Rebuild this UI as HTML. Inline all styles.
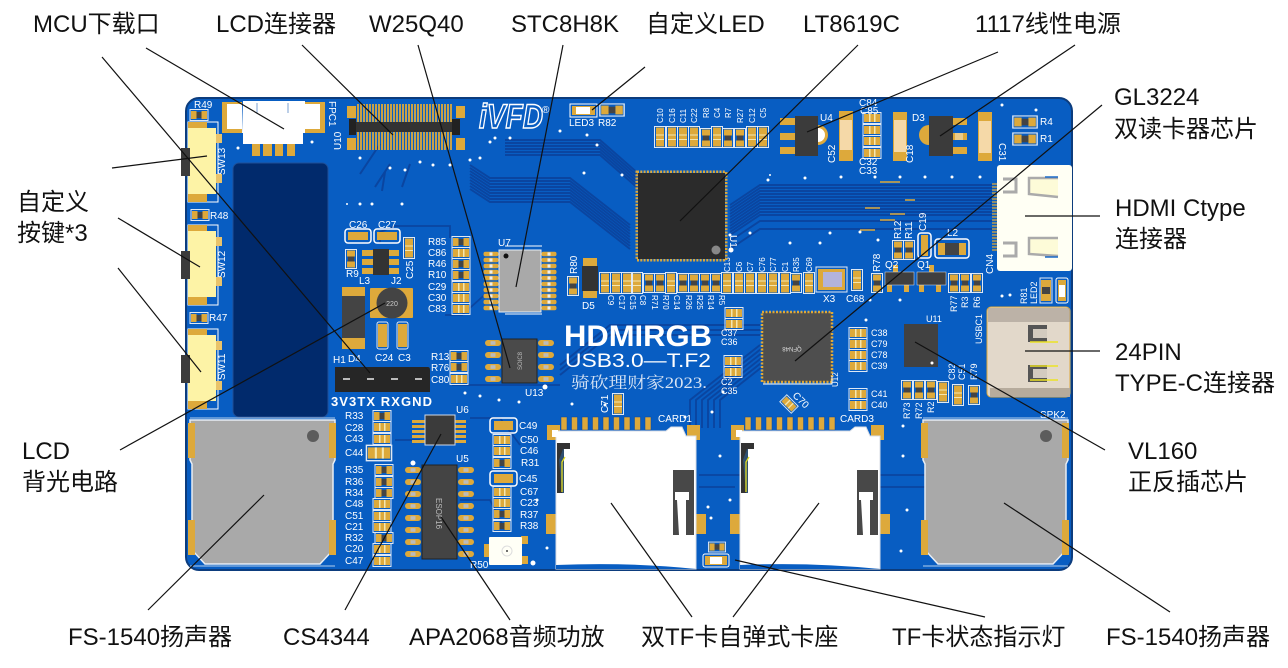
<!DOCTYPE html>
<html lang="zh">
<head>
<meta charset="utf-8">
<title>HDMIRGB</title>
<style>
html,body{margin:0;padding:0;background:#fff;width:1288px;height:668px;overflow:hidden}
svg{display:block}
.l{font:24px "Liberation Sans","Noto Sans CJK SC",sans-serif;fill:#111}
.s{font:10px "Liberation Sans",sans-serif;fill:#fff}
</style>
</head>
<body>
<svg width="1288" height="668" viewBox="0 0 1288 668" xmlns="http://www.w3.org/2000/svg">
<defs>
<g id="r"><rect x="-9" y="-5.5" width="18" height="11" fill="none" stroke="#dfe9f5"/><rect x="-8" y="-4" width="5.5" height="8" fill="#dda93b"/><rect x="2.500" y="-4" width="5.5" height="8" fill="#dda93b"/><rect x="-2.500" y="-3" width="5" height="6" fill="#444"/></g>
<g id="c"><rect x="-9" y="-5.5" width="18" height="11" fill="none" stroke="#dfe9f5"/><rect x="-8" y="-4" width="16" height="8" fill="#dda93b"/><rect x="-3" y="-4" width="1.500" height="8" fill="#f4e6b0"/><rect x="2" y="-4" width="1.500" height="8" fill="#f4e6b0"/></g>
<g id="rv"><rect x="-5.500" y="-9.500" width="11" height="19" fill="none" stroke="#dfe9f5"/><rect x="-4" y="-8.500" width="8" height="6" fill="#dda93b"/><rect x="-4" y="2.500" width="8" height="6" fill="#dda93b"/><rect x="-3" y="-2.500" width="6" height="5" fill="#444"/></g>
<g id="cv"><rect x="-5.500" y="-10.500" width="11" height="21" fill="none" stroke="#dfe9f5"/><rect x="-4" y="-9.500" width="8" height="19" fill="#dda93b"/><rect x="-4" y="-2.500" width="8" height="1" fill="#f4e6b0"/><rect x="-4" y="2" width="8" height="1" fill="#f4e6b0"/></g>
<g id="t1"><path d="M505 140H600L640 175" fill="none" stroke="#0a45a0" stroke-width="1.900"/></g>
<g id="t2"><path d="M470 165L490 178H570L630 225" fill="none" stroke="#0a45a0" stroke-width="1.900"/></g>
<g id="t3"><path d="M730 205L760 185H992" fill="none" stroke="#0a45a0" stroke-width="1.900"/></g>
<g id="t4"><path d="M560 365L610 325H760" fill="none" stroke="#0a45a0" stroke-width="1.900"/></g>
<g id="tc"><path d="M690 428V400L760 345" fill="none" stroke="#0a45a0" stroke-width="1.900"/></g>
<g id="pin"><rect x="-7.500" y="-2.200" width="15" height="4.400" rx="2" fill="#dda93b"/><rect x="-1.500" y="-1.600" width="3" height="3.200" fill="#eee"/></g>
<g id="pin2"><rect x="-8" y="-3" width="16" height="6" rx="3" fill="#dda93b"/><rect x="-2.500" y="-1.800" width="5" height="3.600" fill="#bbb"/></g>
<g id="f"><rect width="6" height="13" fill="#dda93b" stroke="#0a47a4" stroke-width=".5"/></g>
<g id="sw">
<rect x="188" y="0" width="30" height="80" fill="none" stroke="#fff"/>
<rect x="188" y="0" width="19" height="80" fill="#dda93b"/>
<rect x="188" y="6" width="28" height="66" fill="#fdf3a6"/>
<rect x="216" y="12" width="6" height="9" fill="#e9c36a"/><rect x="216" y="52" width="6" height="9" fill="#e9c36a"/>
<rect x="181" y="26" width="9" height="28" fill="#3b3b3b"/>
</g>
<g id="spk">
<path d="M0 0H145V40L143 44V130L130 144H15L2 130V44L0 40Z" fill="#a9a9a9" stroke="#e8eef5" stroke-width="1.500"/>
<rect x="-2" y="3" width="7" height="35" fill="#dda93b"/><rect x="139" y="3" width="7" height="35" fill="#dda93b"/>
<rect x="-2" y="100" width="7" height="35" fill="#dda93b"/><rect x="139" y="100" width="7" height="35" fill="#dda93b"/>
</g>
<g id="card">
<use href="#f" x="745" y="417"/><use href="#f" x="755.500" y="417"/><use href="#f" x="766" y="417"/><use href="#f" x="776.500" y="417"/><use href="#f" x="787" y="417"/><use href="#f" x="797.500" y="417"/><use href="#f" x="808" y="417"/><use href="#f" x="818.500" y="417"/><use href="#f" x="829" y="417"/>
<rect x="731" y="425" width="13" height="15" fill="#dda93b"/><rect x="871" y="425" width="13" height="15" fill="#dda93b"/>
<rect x="730" y="514" width="12" height="20" fill="#dda93b"/><rect x="878" y="514" width="12" height="20" fill="#dda93b"/>
<path d="M740 431H850L855 427H866L870 436H880V569H740Z" fill="#fff" stroke="#d8dde5"/>
<rect x="741" y="443" width="7" height="50" fill="#2f4f70"/><path d="M743 460L747 449H754V443H741V493H746Z" fill="#333"/><path d="M746 492V462L749 457" stroke="#e6df22" stroke-width="1.300" fill="none"/>
<rect x="857" y="470" width="21" height="65" fill="#484848"/>
<path d="M859 492H873V500H870V535H863L861 500H859Z" fill="#fff"/>
<rect x="736" y="430" width="6" height="7" fill="#fff"/>
</g>
</defs>

<!-- board -->
<rect x="186" y="98" width="886" height="472" rx="13" fill="#085dc2" stroke="#0c3c7d" stroke-width="2"/>

<!-- traces -->
<use href="#t1"/><use href="#t1" y="3"/><use href="#t1" y="6"/><use href="#t1" y="9"/><use href="#t1" y="12"/><use href="#t1" y="15"/>
<use href="#t2"/><use href="#t2" y="3"/><use href="#t2" y="6"/><use href="#t2" y="9"/><use href="#t2" y="12"/><use href="#t2" y="15"/><use href="#t2" y="18"/><use href="#t2" y="21"/><use href="#t2" y="24"/>
<use href="#t3"/><use href="#t3" y="3"/><use href="#t3" y="6"/><use href="#t3" y="9"/><use href="#t3" y="12"/><use href="#t3" y="15"/><use href="#t3" y="18"/><use href="#t3" y="21"/><use href="#t3" y="24"/><use href="#t3" y="27"/><use href="#t3" y="30"/><use href="#t3" y="36"/><use href="#t3" y="44"/>
<use href="#t4"/><use href="#t4" y="5"/><use href="#t4" y="10"/>
<use href="#tc"/><use href="#tc" x="6"/><use href="#tc" x="12"/><use href="#tc" x="18"/><use href="#tc" x="24"/><use href="#tc" x="30"/>
<path d="M380 243V232L395 226H450V238M445 315H462L490 290M452 385H560M395 440H420M470 418H500L520 445M460 500H490L505 530M730 475H745M880 475H925M880 487H925M699 475H735M699 487H735" fill="none" stroke="#0a45a0" stroke-width="1.800"/>
<path d="M350 130L330 160M360 150L345 173M380 150L372 173M355 158L352 177" stroke="#0a45a0" stroke-width="2" fill="none" transform="translate(30,14)"/>
<path d="M880 182H900M905 200H915M865 208H880M890 214H905M880 220H895M860 230H875" stroke="#dda93b" stroke-width="1.500"/>

<!-- vias -->
<g fill="#fff">
<circle cx="238" cy="148" r="1.500"/><circle cx="312" cy="142" r="1.500"/><circle cx="360" cy="204" r="1.500"/><circle cx="372" cy="204" r="1.500"/><circle cx="402" cy="204" r="1.500"/><circle cx="360" cy="158" r="1.500"/>
<circle cx="390" cy="168" r="1.500"/><circle cx="405" cy="170" r="1.500"/><circle cx="420" cy="162" r="1.500"/><circle cx="433" cy="165" r="1.500"/><circle cx="450" cy="165" r="1.500"/><circle cx="470" cy="160" r="1.500"/><circle cx="480" cy="158" r="1.500"/><circle cx="490" cy="142" r="1.500"/><circle cx="495" cy="138" r="1.500"/><circle cx="510" cy="138" r="1.500"/><circle cx="560" cy="131" r="1.500"/><circle cx="587" cy="135" r="1.500"/><circle cx="597" cy="145" r="1.500"/><circle cx="584" cy="173" r="1.500"/><circle cx="622" cy="175" r="1.500"/>
<circle cx="768" cy="180" r="1.500"/><circle cx="805" cy="178" r="1.500"/><circle cx="841" cy="177" r="1.500"/><circle cx="875" cy="177" r="1.500"/><circle cx="900" cy="177" r="1.500"/><circle cx="925" cy="177" r="1.500"/><circle cx="952" cy="177" r="1.500"/><circle cx="980" cy="177" r="1.500"/><circle cx="1002" cy="105" r="1.500"/><circle cx="1036" cy="110" r="1.500"/>
<circle cx="750" cy="233" r="1.500"/><circle cx="830" cy="233" r="1.500"/><circle cx="860" cy="232" r="1.500"/><circle cx="878" cy="240" r="1.500"/><circle cx="820" cy="243" r="1.500"/><circle cx="790" cy="243" r="1.500"/><circle cx="730" cy="235" r="1.500"/>
<circle cx="1002" cy="296" r="1.500"/><circle cx="900" cy="300" r="1.500"/><circle cx="870" cy="300" r="1.500"/><circle cx="866" cy="320" r="1.500"/><circle cx="1010" cy="295" r="1.500"/><circle cx="1024" cy="363" r="0"/><circle cx="903" cy="426" r="1.500"/><circle cx="903" cy="456" r="1.500"/><circle cx="907" cy="510" r="1.500"/><circle cx="901" cy="551" r="1.500"/>
<circle cx="465" cy="393" r="1.500"/><circle cx="480" cy="396" r="1.500"/><circle cx="499" cy="400" r="1.500"/><circle cx="519" cy="402" r="1.500"/><circle cx="545" cy="387" r="2.500"/><circle cx="572" cy="404" r="1.500"/><circle cx="605" cy="405" r="1.500"/><circle cx="712" cy="412" r="1.500"/><circle cx="723" cy="392" r="1.500"/><circle cx="685" cy="417" r="1.500"/><circle cx="720" cy="456" r="1.500"/><circle cx="708" cy="507" r="1.500"/><circle cx="730" cy="500" r="1.500"/><circle cx="711" cy="518" r="1.500"/><circle cx="537" cy="500" r="1.500"/><circle cx="547" cy="548" r="1.500"/><circle cx="533" cy="563" r="2.500"/><circle cx="413" cy="463" r="2.500"/>
<circle cx="347" cy="204" r="1"/><circle cx="770" cy="175" r="1"/>
</g>

<!-- dark window -->
<rect x="233" y="163" width="95" height="254" rx="6" fill="#012a6c" stroke="#1f4f97" stroke-width="1"/>

<!-- FPC1 -->
<rect x="222" y="102" width="20" height="31" fill="#dda93b"/><rect x="305" y="102" width="20" height="31" fill="#dda93b"/>
<rect x="227" y="104" width="15" height="25" fill="#fff"/><rect x="305" y="104" width="15" height="25" fill="#fff"/>
<g fill="#dda93b"><rect x="252" y="142" width="8" height="14"/><rect x="263" y="142" width="9" height="14"/><rect x="275" y="142" width="8" height="14"/><rect x="287" y="142" width="8" height="14"/></g>
<path d="M243 101H305V133H303V144H243V133H242Z" fill="#fff"/>
<path d="M257 103V113M288 103V113" stroke="#7a9fd0" stroke-width="1"/>
<text class="s" transform="translate(329,101) rotate(90)">FPC1</text>
<text class="s" transform="translate(341,150) rotate(-90)">U10</text>

<!-- U10 connector -->
<g>
<rect x="347" y="106" width="9" height="12" fill="#dda93b"/><rect x="456" y="106" width="9" height="12" fill="#dda93b"/><rect x="347" y="138" width="9" height="12" fill="#dda93b"/><rect x="456" y="138" width="9" height="12" fill="#dda93b"/>
<path d="M358 104V150M361 104V150M364 104V150M367 104V150M370 104V150M373 104V150M376 104V150M379 104V150M382 104V150M385 104V150M388 104V150M391 104V150M394 104V150M397 104V150M400 104V150M403 104V150M406 104V150M409 104V150M412 104V150M415 104V150M418 104V150M421 104V150M424 104V150M427 104V150M430 104V150M433 104V150M436 104V150M439 104V150M442 104V150M445 104V150M448 104V150M451 104V150" stroke="#dda93b" stroke-width="1.800"/>
<rect x="350" y="122" width="108" height="10" fill="#333"/><rect x="349" y="119" width="7" height="16" fill="#222"/><rect x="452" y="119" width="8" height="16" fill="#222"/>
</g>

<!-- logo -->
<text x="479" y="128" font-family="Liberation Sans,sans-serif" font-size="34" font-weight="700" font-style="italic" fill="#085dc2" stroke="#fff" stroke-width="1.500" textLength="64" lengthAdjust="spacingAndGlyphs">iVFD</text>
<text x="542" y="113" class="s" font-size="11">®</text>

<!-- LED3 R82 -->
<rect x="570" y="104" width="27" height="13" fill="none" stroke="#fff"/><rect x="572" y="106" width="23" height="9" fill="#dda93b"/><rect x="576" y="107" width="14" height="7" fill="#fff"/>
<use href="#r" transform="translate(612,110) scale(1.350,1.100)"/>
<text class="s" x="569" y="126">LED3</text><text class="s" x="598" y="126">R82</text>

<!-- switches -->
<use href="#sw" y="122"/><use href="#sw" y="225"/><use href="#sw" y="329"/>
<text class="s" transform="translate(225,175) rotate(-90)">SW13</text><text class="s" transform="translate(225,278) rotate(-90)">SW12</text><text class="s" transform="translate(225,380) rotate(-90)">SW11</text>
<use href="#r" x="199" y="115"/><use href="#r" x="200" y="215"/><use href="#r" x="199" y="318"/>
<text class="s" x="194" y="108">R49</text><text class="s" x="210" y="219">R48</text><text class="s" x="209" y="321">R47</text>

<!-- LCD power -->
<rect x="345" y="229" width="26" height="14" rx="3" fill="none" stroke="#fff" stroke-width="1.500"/><rect x="348" y="232" width="20" height="8" fill="#dda93b"/>
<rect x="374" y="229" width="26" height="14" rx="3" fill="none" stroke="#fff" stroke-width="1.500"/><rect x="377" y="232" width="20" height="8" fill="#dda93b"/>
<text class="s" x="349" y="228">C26</text><text class="s" x="378" y="228">C27</text>
<g fill="#dda93b"><rect x="362" y="250" width="11" height="6"/><rect x="362" y="259" width="11" height="6"/><rect x="362" y="268" width="11" height="6"/><rect x="389" y="250" width="10" height="6"/><rect x="389" y="259" width="10" height="6"/><rect x="389" y="268" width="10" height="6"/></g>
<rect x="373" y="249" width="16" height="26" fill="#333"/>
<use href="#rv" x="351" y="259"/><text class="s" x="346" y="277">R9</text>
<use href="#cv" x="409" y="248"/><text class="s" transform="translate(413,279) rotate(-90)">C25</text>
<text class="s" x="359" y="284">L3</text><text class="s" x="391" y="284">J2</text>
<rect x="342" y="287" width="23" height="10" fill="#dda93b"/>
<rect x="342" y="296" width="23" height="44" fill="#444"/><rect x="342" y="338" width="23" height="11" fill="#dda93b"/>
<rect x="370" y="288" width="43" height="30" rx="1" fill="#dda93b"/><circle cx="392" cy="303" r="15.500" fill="#444"/>
<text x="392" y="306" text-anchor="middle" font-family="Liberation Sans,sans-serif" font-size="7" fill="#ccc">220</text>
<rect x="377" y="322" width="11" height="27" rx="2" fill="none" stroke="#dfe9f5"/><rect x="378" y="324" width="9" height="23" fill="#dda93b"/>
<rect x="397" y="322" width="11" height="27" rx="2" fill="none" stroke="#dfe9f5"/><rect x="398" y="324" width="9" height="23" fill="#dda93b"/>
<text class="s" x="348" y="362">D4</text><text class="s" x="375" y="361">C24</text><text class="s" x="398" y="361">C3</text>
<text class="s" x="333" y="363" font-size="8">H1</text>

<!-- H1 -->
<path d="M335 367H428Q430 367 430 370V392H335Z" fill="#262626"/>
<g fill="#bbb"><rect x="343" y="378" width="7" height="2"/><rect x="367" y="378" width="7" height="2"/><rect x="391" y="378" width="7" height="2"/><rect x="415" y="378" width="7" height="2"/></g>
<text x="331" y="406" font-family="Liberation Sans,sans-serif" font-size="13" font-weight="700" fill="#fff" textLength="101">3V3TX RXGND</text>

<!-- R85.. -->
<use href="#r" x="461" y="242"/><use href="#c" x="461" y="253"/><use href="#r" x="461" y="264"/><use href="#r" x="461" y="275"/><use href="#c" x="461" y="287"/><use href="#c" x="461" y="298"/><use href="#c" x="461" y="309"/>
<text class="s" x="428" y="245">R85</text><text class="s" x="428" y="256">C86</text><text class="s" x="428" y="267">R46</text><text class="s" x="428" y="278">R10</text><text class="s" x="428" y="290">C29</text><text class="s" x="428" y="301">C30</text><text class="s" x="428" y="312">C83</text>

<!-- U7 -->
<text class="s" x="498" y="246">U7</text>
<g>
<use href="#pin" x="491" y="254"/><use href="#pin" x="491" y="260"/><use href="#pin" x="491" y="266"/><use href="#pin" x="491" y="272"/><use href="#pin" x="491" y="278"/><use href="#pin" x="491" y="284"/><use href="#pin" x="491" y="290"/><use href="#pin" x="491" y="296"/><use href="#pin" x="491" y="302"/><use href="#pin" x="491" y="308"/>
<use href="#pin" x="549" y="254"/><use href="#pin" x="549" y="260"/><use href="#pin" x="549" y="266"/><use href="#pin" x="549" y="272"/><use href="#pin" x="549" y="278"/><use href="#pin" x="549" y="284"/><use href="#pin" x="549" y="290"/><use href="#pin" x="549" y="296"/><use href="#pin" x="549" y="302"/><use href="#pin" x="549" y="308"/>
</g>
<rect x="499" y="250" width="42" height="62" fill="#a9a9a9" stroke="#e8eef5"/><circle cx="506" cy="256" r="2.500" fill="#111"/>
<path d="M505 246H542M505 314H542" stroke="#fff"/>

<!-- D5 R80 -->
<use href="#rv" x="573" y="286"/><text class="s" transform="translate(577,274) rotate(-90)">R80</text>
<rect x="583" y="258" width="14" height="40" fill="#dda93b"/><rect x="582" y="266" width="16" height="25" fill="#333"/>
<text class="s" x="582" y="309">D5</text>

<!-- row -->
<use href="#cv" x="605" y="283"/><use href="#cv" x="616" y="283"/><use href="#cv" x="627" y="283"/><use href="#cv" x="637" y="283"/>
<use href="#rv" x="649" y="283"/><use href="#rv" x="660" y="283"/><use href="#cv" x="671" y="283"/><use href="#rv" x="683" y="283"/><use href="#rv" x="694" y="283"/><use href="#rv" x="705" y="283"/><use href="#rv" x="716" y="283"/><use href="#cv" x="727" y="283"/><use href="#cv" x="739" y="283"/><use href="#cv" x="750" y="283"/><use href="#cv" x="762" y="283"/><use href="#cv" x="773" y="283"/><use href="#cv" x="785" y="283"/><use href="#rv" x="796" y="283"/><use href="#cv" x="809" y="283"/>
<g font-family="Liberation Sans,sans-serif" font-size="8" fill="#fff">
<text transform="translate(608,295) rotate(90)">C9</text><text transform="translate(619,295) rotate(90)">C17</text><text transform="translate(630,295) rotate(90)">C15</text><text transform="translate(640,295) rotate(90)">C8</text><text transform="translate(652,295) rotate(90)">R71</text><text transform="translate(663,295) rotate(90)">R70</text><text transform="translate(674,295) rotate(90)">C14</text><text transform="translate(686,295) rotate(90)">R26</text><text transform="translate(697,295) rotate(90)">R25</text><text transform="translate(708,295) rotate(90)">R14</text><text transform="translate(719,295) rotate(90)">R5</text>
<text transform="translate(730,272) rotate(-90)">C13</text><text transform="translate(742,272) rotate(-90)">C6</text><text transform="translate(753,272) rotate(-90)">C7</text><text transform="translate(765,272) rotate(-90)">C76</text><text transform="translate(776,272) rotate(-90)">C77</text><text transform="translate(788,272) rotate(-90)">C1</text><text transform="translate(799,272) rotate(-90)">R35</text><text transform="translate(812,272) rotate(-90)">C69</text>
</g>
<rect x="816" y="267" width="31" height="25" fill="none" stroke="#dfe9f5"/><rect x="818" y="269" width="27" height="21" fill="#dda93b"/><rect x="823" y="272" width="19" height="15" fill="#b3b3db"/>
<text class="s" x="823" y="302">X3</text><use href="#cv" x="857" y="280"/><text class="s" x="846" y="302">C68</text>

<!-- Top row caps -->
<use href="#cv" x="660" y="137"/><use href="#cv" x="672" y="137"/><use href="#cv" x="683" y="137"/><use href="#cv" x="694" y="137"/><use href="#rv" x="706" y="138"/><use href="#cv" x="717" y="137"/><use href="#rv" x="728" y="138"/><use href="#rv" x="740" y="138"/><use href="#cv" x="752" y="137"/><use href="#cv" x="763" y="137"/>
<g font-family="Liberation Sans,sans-serif" font-size="8" fill="#fff">
<text transform="translate(663,123) rotate(-90)">C10</text><text transform="translate(675,123) rotate(-90)">C16</text><text transform="translate(686,123) rotate(-90)">C11</text><text transform="translate(697,123) rotate(-90)">C22</text><text transform="translate(709,118) rotate(-90)">R8</text><text transform="translate(720,118) rotate(-90)">C4</text><text transform="translate(731,118) rotate(-90)">R7</text><text transform="translate(743,123) rotate(-90)">R27</text><text transform="translate(755,123) rotate(-90)">C12</text><text transform="translate(766,118) rotate(-90)">C5</text>
</g>

<!-- U1 -->
<rect x="637" y="172" width="89" height="88" fill="none" stroke="#dda93b" stroke-width="3" stroke-dasharray="2 1.300"/>
<rect x="638" y="173" width="87" height="86" fill="#2b2b2b"/><circle cx="716" cy="250" r="4.500" fill="#888"/>
<circle cx="731" cy="250" r="2.500" fill="#fff"/><text class="s" transform="translate(730,235) rotate(90)" font-size="8">U1</text>

<!-- U4 -->
<g fill="#dda93b"><rect x="780" y="118" width="16" height="7"/><rect x="780" y="133" width="16" height="7"/><rect x="780" y="147" width="16" height="7"/></g>
<path d="M818 125A10 10 0 0 1 818 145Z" fill="#dda93b"/><path d="M818 128A6 6 0 0 1 818 142Z" fill="#fff"/>
<rect x="795" y="116" width="23" height="40" fill="#3b3b3b"/>
<text class="s" x="820" y="121">U4</text>
<rect x="839" y="111" width="14" height="50" fill="#dda93b"/><rect x="840" y="120" width="12" height="30" fill="#f5d9a8"/>
<text class="s" transform="translate(835,163) rotate(-90)">C52</text>
<use href="#c" x="872" y="118"/><use href="#c" x="872" y="130"/><use href="#c" x="872" y="141"/><use href="#c" x="872" y="153"/>
<g font-family="Liberation Sans,sans-serif" font-size="10" fill="#fff"><text x="859" y="106">C84</text><text x="860" y="114">C85</text><text x="859" y="165">C32</text><text x="859" y="174">C33</text></g>
<rect x="893" y="112" width="14" height="49" fill="#dda93b"/><rect x="894" y="120" width="12" height="32" fill="#f5d9a8"/>
<text class="s" transform="translate(913,163) rotate(-90)">C18</text><text class="s" x="912" y="121">D3</text>
<path d="M929 125A10 10 0 0 0 929 145Z" fill="#dda93b"/>
<g fill="#dda93b"><rect x="953" y="118" width="14" height="7"/><rect x="953" y="133" width="14" height="7"/><rect x="953" y="147" width="14" height="7"/></g><rect x="955" y="133" width="8" height="7" fill="#fff" opacity=".4"/>
<rect x="929" y="116" width="24" height="40" fill="#3b3b3b"/>
<rect x="978" y="112" width="14" height="49" fill="#dda93b"/><rect x="979" y="121" width="12" height="32" fill="#f5d9a8"/>
<text class="s" transform="translate(999,143) rotate(90)" font-size="9">C31</text>
<use href="#r" transform="translate(1025,122) scale(1.350,1.100)"/><use href="#r" transform="translate(1025,139) scale(1.350,1.100)"/>
<text class="s" x="1040" y="125">R4</text><text class="s" x="1040" y="142">R1</text>

<!-- HDMI -->
<g stroke="#dda93b" stroke-width="1.200"><path d="M992 184H998M992 187H998M992 190H998M992 193H998M992 196H998M992 199H998M992 202H998M992 205H998M992 208H998M992 211H998M992 214H998M992 217H998M992 220H998M992 223H998M992 226H998M992 229H998M992 232H998M992 235H998M992 238H998M992 241H998M992 244H998M992 247H998M992 250H998"/></g>
<rect x="997" y="165" width="75" height="106" rx="3" fill="#fffff4"/>
<path d="M1003 179H1016V192H1003M1003 243H1016V256H1003" fill="none" stroke="#aaa" stroke-width="3"/>
<path d="M1058 178H1029V194L1058 197" fill="#fdfbd8" stroke="#aaa" stroke-width="2.500"/><path d="M1058 238H1029V254L1058 256" fill="#fdfbd8" stroke="#aaa" stroke-width="2.500"/>
<path d="M1045 177H1058M1045 257H1058" stroke="#1a6ac8" stroke-width="1.500"/>
<text class="s" transform="translate(993,274) rotate(-90)" font-size="9">CN4</text>

<!-- R12 group -->
<use href="#rv" x="898" y="250"/><use href="#rv" x="909" y="250"/>
<text class="s" transform="translate(901,239) rotate(-90)" font-size="9">R12</text><text class="s" transform="translate(912,239) rotate(-90)" font-size="9">R11</text><text class="s" transform="translate(926,231) rotate(-90)" font-size="9">C19</text>
<rect x="918" y="233" width="13" height="25" rx="3" fill="none" stroke="#fff" stroke-width="1.500"/><rect x="921" y="235" width="7" height="21" fill="#dda93b"/>
<rect x="935" y="239" width="34" height="19" rx="3" fill="none" stroke="#fff" stroke-width="1.500"/><rect x="938" y="243" width="28" height="12" fill="#dda93b"/><rect x="945" y="243" width="14" height="12" fill="#444"/>
<text class="s" x="947" y="236">L2</text>
<use href="#rv" x="877" y="283"/><text class="s" transform="translate(880,272) rotate(-90)" font-size="9">R78</text>
<g fill="#dda93b"><rect x="893" y="265" width="5" height="8"/><rect x="887" y="284" width="5" height="8"/><rect x="904" y="284" width="5" height="8"/><rect x="929" y="265" width="5" height="8"/><rect x="919" y="284" width="5" height="8"/><rect x="936" y="284" width="5" height="8"/></g>
<rect x="885" y="272" width="29" height="13" fill="#3f3f3f" stroke="#dfe9f5" stroke-width=".5"/><rect x="917" y="272" width="29" height="13" fill="#3f3f3f" stroke="#dfe9f5" stroke-width=".5"/>
<text class="s" x="885" y="268" font-size="9">Q2</text><text class="s" x="917" y="268" font-size="9">Q1</text>
<use href="#rv" x="954" y="283"/><use href="#rv" x="965" y="283"/><use href="#rv" x="977" y="283"/>
<g font-family="Liberation Sans,sans-serif" font-size="9" fill="#fff"><text transform="translate(957,312) rotate(-90)">R77</text><text transform="translate(968,308) rotate(-90)">R3</text><text transform="translate(980,308) rotate(-90)">R6</text><text transform="translate(1027,304) rotate(-90)">R81</text><text transform="translate(1037,304) rotate(-90)">LED2</text><text transform="translate(982,344) rotate(-90)">USBC1</text><text x="926" y="322">U11</text><text transform="translate(838,387) rotate(-90)" font-size="8">U12</text></g>
<rect x="1040" y="278" width="12" height="25" fill="none" stroke="#dfe9f5"/><rect x="1041" y="280" width="10" height="21" fill="#dda93b"/><rect x="1042" y="287" width="8" height="7" fill="#444"/>
<rect x="1056" y="278" width="12" height="25" rx="2" fill="none" stroke="#fff"/><rect x="1058" y="280" width="8" height="21" fill="#dda93b"/><rect x="1059" y="285" width="6" height="12" fill="#fff"/>

<!-- USB-C -->
<rect x="987" y="307" width="83" height="90" rx="4" fill="#e2d8ca" stroke="#dda93b" stroke-width="1"/>
<path d="M988 308H1070V322H988Z" fill="#9c948a" opacity=".55"/>
<path d="M1028 325H1047V342H1028ZM1028 365H1047V382H1028Z" fill="#555"/>
<path d="M1033 329H1047V338H1033ZM1033 369H1047V378H1033Z" fill="#d3cbbf"/>
<path d="M1030 342H1058M1030 380H1058M1030 366H1058" stroke="#ebe225" stroke-width="1.500"/>
<path d="M990 388H1070V397H990Z" fill="#b6ab9c"/>

<!-- U12 -->
<rect x="762" y="312" width="70" height="70" fill="#4e4e4e" stroke="#dda93b" stroke-width="2.500" stroke-dasharray="2 1.500"/>
<text transform="translate(792,347) rotate(180)" text-anchor="middle" font-family="Liberation Sans,sans-serif" font-size="6" fill="#ddd">QFN48</text>
<path d="M763 384H832V376" fill="none" stroke="#fff"/>

<!-- small caps centre -->
<use href="#c" x="734" y="313"/><use href="#c" x="734" y="324"/><use href="#c" x="733" y="361"/><use href="#c" x="733" y="372"/>
<g font-family="Liberation Sans,sans-serif" font-size="9" fill="#fff"><text x="721" y="336">C37</text><text x="721" y="345">C36</text><text x="721" y="385">C2</text><text x="721" y="394">C35</text></g>
<use href="#c" x="858" y="333"/><use href="#c" x="858" y="344"/><use href="#c" x="858" y="355"/><use href="#c" x="858" y="366"/><use href="#c" x="858" y="394"/><use href="#c" x="858" y="405"/>
<g font-family="Liberation Sans,sans-serif" font-size="9" fill="#fff"><text x="871" y="336">C38</text><text x="871" y="347">C79</text><text x="871" y="358">C78</text><text x="871" y="369">C39</text><text x="871" y="397">C41</text><text x="871" y="408">C40</text></g>
<use href="#c" transform="translate(789,404) rotate(45) scale(.9)"/><text class="s" transform="translate(792,396) rotate(45)" font-size="9">C70</text>
<use href="#cv" x="618" y="404"/><text class="s" transform="translate(608,413) rotate(-90)" font-size="8">C71</text>

<!-- U11 -->
<rect x="904" y="324" width="34" height="43" fill="#414141"/><circle cx="932" cy="363" r="1.500" fill="#fff"/>
<use href="#rv" x="907" y="390"/><use href="#rv" x="919" y="390"/><use href="#rv" x="931" y="390"/><use href="#cv" x="943" y="392"/><use href="#cv" x="958" y="395"/><use href="#rv" x="974" y="395"/>
<g font-family="Liberation Sans,sans-serif" font-size="9" fill="#fff"><text transform="translate(910,419) rotate(-90)">R73</text><text transform="translate(922,419) rotate(-90)">R72</text><text transform="translate(934,413) rotate(-90)">R2</text><text transform="translate(955,380) rotate(-90)">C82</text><text transform="translate(965,380) rotate(-90)">C51</text><text transform="translate(977,380) rotate(-90)">R79</text></g>

<!-- HDMIRGB -->
<text x="564" y="346" font-family="Liberation Sans,sans-serif" font-size="30" font-weight="700" fill="#fff" textLength="148" lengthAdjust="spacingAndGlyphs">HDMIRGB</text>
<text x="565" y="367" font-family="Liberation Sans,sans-serif" font-size="19" fill="#fff" textLength="146" lengthAdjust="spacingAndGlyphs">USB3.0—T.F2</text>
<text x="571" y="388" font-family="Liberation Serif,Noto Serif CJK SC,serif" font-size="16" fill="#d8e4f4" textLength="136" lengthAdjust="spacingAndGlyphs">骑砍理财家2023.</text>

<!-- U13 -->
<use href="#pin2" x="493" y="343"/><use href="#pin2" x="493" y="355"/><use href="#pin2" x="493" y="367"/><use href="#pin2" x="493" y="379"/>
<use href="#pin2" x="546" y="343"/><use href="#pin2" x="546" y="355"/><use href="#pin2" x="546" y="367"/><use href="#pin2" x="546" y="379"/>
<rect x="502" y="339" width="35" height="44" fill="#4a4a4a" stroke="#222"/>
<text transform="translate(522,361) rotate(-90)" text-anchor="middle" font-family="Liberation Sans,sans-serif" font-size="6" fill="#bbb">SOIC8</text>
<text class="s" x="525" y="396" font-size="9">U13</text>
<use href="#r" x="459" y="356"/><use href="#r" x="459" y="367"/><use href="#c" x="459" y="379"/>
<g font-family="Liberation Sans,sans-serif" font-size="10" fill="#fff"><text x="431" y="360">R13</text><text x="431" y="371">R76</text><text x="431" y="383">C80</text></g>

<!-- speakers -->
<use href="#spk" x="190" y="420"/><circle cx="313" cy="436" r="6" fill="#5c5c5c"/>
<use href="#spk" x="923" y="420"/><circle cx="1046" cy="436" r="6" fill="#5c5c5c"/>
<path d="M190 418H335M923 418H1068M190 566H335M923 566H1068" stroke="#fff" stroke-width="1" opacity=".7"/>
<text class="s" x="1040" y="418">SPK2</text>

<!-- Left caps -->
<use href="#r" x="382" y="416"/><use href="#c" x="382" y="427"/><use href="#c" x="382" y="439"/><use href="#c" transform="translate(379,453) scale(1.400)"/><use href="#r" x="384" y="470"/><use href="#r" x="384" y="482"/><use href="#r" x="384" y="493"/><use href="#c" x="382" y="504"/><use href="#c" x="382" y="516"/><use href="#c" x="382" y="527"/><use href="#r" x="384" y="538"/><use href="#c" x="382" y="549"/><use href="#c" x="382" y="561"/>
<g font-family="Liberation Sans,sans-serif" font-size="10" fill="#fff"><text x="345" y="419">R33</text><text x="345" y="431">C28</text><text x="345" y="442">C43</text><text x="345" y="456">C44</text><text x="345" y="473">R35</text><text x="345" y="485">R36</text><text x="345" y="496">R34</text><text x="345" y="507">C48</text><text x="345" y="519">C51</text><text x="345" y="530">C21</text><text x="345" y="541">R32</text><text x="345" y="552">C20</text><text x="345" y="564">C47</text></g>

<!-- U6 -->
<g fill="#dda93b"><rect x="412" y="420" width="13" height="3"/><rect x="412" y="425" width="13" height="3"/><rect x="412" y="430" width="13" height="3"/><rect x="412" y="435" width="13" height="3"/><rect x="412" y="440" width="13" height="3"/><rect x="455" y="420" width="11" height="3"/><rect x="455" y="425" width="11" height="3"/><rect x="455" y="430" width="11" height="3"/><rect x="455" y="435" width="11" height="3"/><rect x="455" y="440" width="11" height="3"/></g>
<rect x="425" y="415" width="30" height="30" fill="#3b3b3b" stroke="#cfd8e5"/>
<text class="s" x="456" y="413" font-size="9">U6</text>
<text class="s" x="456" y="462" font-size="9">U5</text>
<!-- U5 -->
<use href="#pin2" x="413" y="470"/><use href="#pin2" x="413" y="482"/><use href="#pin2" x="413" y="494"/><use href="#pin2" x="413" y="506"/><use href="#pin2" x="413" y="518"/><use href="#pin2" x="413" y="530"/><use href="#pin2" x="413" y="542"/><use href="#pin2" x="413" y="554"/>
<use href="#pin2" x="466" y="470"/><use href="#pin2" x="466" y="482"/><use href="#pin2" x="466" y="494"/><use href="#pin2" x="466" y="506"/><use href="#pin2" x="466" y="518"/><use href="#pin2" x="466" y="530"/><use href="#pin2" x="466" y="542"/><use href="#pin2" x="466" y="554"/>
<rect x="422" y="465" width="35" height="94" fill="#444" stroke="#222"/>
<text transform="translate(436,498) rotate(90)" font-family="Liberation Sans,sans-serif" font-size="8" fill="#bbb">ESOP16</text>

<!-- right of U5 -->
<rect x="490" y="418" width="27" height="15" rx="3" fill="none" stroke="#fff" stroke-width="1.500"/><rect x="494" y="421" width="19" height="9" fill="#dda93b"/>
<use href="#c" x="502" y="440"/><use href="#c" x="502" y="451"/><use href="#r" x="502" y="463"/>
<rect x="490" y="471" width="27" height="15" rx="3" fill="none" stroke="#fff" stroke-width="1.500"/><rect x="494" y="474" width="19" height="9" fill="#dda93b"/>
<use href="#c" x="502" y="492"/><use href="#c" x="502" y="503"/><use href="#r" x="502" y="514"/><use href="#r" x="502" y="526"/>
<g font-family="Liberation Sans,sans-serif" font-size="10" fill="#fff"><text x="519" y="429">C49</text><text x="520" y="443">C50</text><text x="520" y="454">C46</text><text x="521" y="466">R31</text><text x="519" y="482">C45</text><text x="520" y="495">C67</text><text x="520" y="506">C23</text><text x="520" y="518">R37</text><text x="520" y="529">R38</text></g>

<!-- mic/white -->
<rect x="484" y="544" width="6" height="13" fill="#dda93b"/><rect x="521" y="536" width="7" height="8" fill="#dda93b"/><rect x="521" y="556" width="7" height="8" fill="#dda93b"/>
<rect x="489" y="537" width="33" height="28" rx="1" fill="#fffff6"/><circle cx="507" cy="551" r="1" fill="#444"/><circle cx="507" cy="551" r="5" fill="none" stroke="#ddd"/>
<text class="s" x="470" y="568" font-size="8">R50</text>

<!-- cards -->
<g transform="translate(-184,0)"><use href="#card"/></g><use href="#card"/>
<path d="M556 565Q630 562 696 569H556ZM740 565Q810 562 880 569H740Z" fill="#085dc2"/>
<text class="s" x="658" y="422" font-size="9">CARD1</text><text class="s" x="840" y="422" font-size="9">CARD3</text>

<!-- LED under -->
<use href="#r" transform="translate(717,547) scale(.95,.9)"/>
<rect x="703" y="554" width="26" height="13" rx="2" fill="none" stroke="#fff"/><rect x="705" y="556" width="22" height="9" fill="#dda93b"/><rect x="710" y="557" width="12" height="7" fill="#fff"/>

<!-- leader lines -->
<g stroke="#111" stroke-width="1.200" fill="none">
<path d="M146 48L284 129"/>
<path d="M102 57L370 373"/>
<path d="M302 45L393 135"/>
<path d="M418 45L510 368"/>
<path d="M563 45L516 287"/>
<path d="M645 67L592 110"/>
<path d="M858 45L680 221"/>
<path d="M998 52L807 132"/>
<path d="M1075 45L940 136"/>
<path d="M1102 105L795 361"/>
<path d="M1025 216H1100"/>
<path d="M1025 351H1100"/>
<path d="M915 342L1105 450"/>
<path d="M120 450L385 303"/>
<path d="M112 168L207 156"/>
<path d="M118 218L200 267"/>
<path d="M118 268L201 372"/>
<path d="M148 610L264 495"/>
<path d="M345 610L441 434"/>
<path d="M510 620L441 517"/>
<path d="M692 617L611 503"/>
<path d="M733 617L819 503"/>
<path d="M985 617L735 560"/>
<path d="M1170 612L1004 503"/>
</g>

<!-- labels -->
<text class="l" x="33" y="32">MCU下载口</text>
<text class="l" x="216" y="32">LCD连接器</text>
<text class="l" x="369" y="32">W25Q40</text>
<text class="l" x="511" y="32">STC8H8K</text>
<text class="l" x="646" y="32">自定义LED</text>
<text class="l" x="803" y="32">LT8619C</text>
<text class="l" x="975" y="32">1117线性电源</text>
<text class="l" x="1114" y="105">GL3224</text>
<text class="l" x="1114" y="137">双读卡器芯片</text>
<text class="l" x="1115" y="216">HDMI Ctype</text>
<text class="l" x="1115" y="247">连接器</text>
<text class="l" x="1115" y="360">24PIN</text>
<text class="l" x="1115" y="391">TYPE-C连接器</text>
<text class="l" x="1128" y="459">VL160</text>
<text class="l" x="1128" y="490">正反插芯片</text>
<text class="l" x="17" y="210">自定义</text>
<text class="l" x="17" y="241">按键*3</text>
<text class="l" x="22" y="459">LCD</text>
<text class="l" x="22" y="490">背光电路</text>
<text class="l" x="68" y="645">FS-1540扬声器</text>
<text class="l" x="283" y="645">CS4344</text>
<text class="l" x="409" y="645">APA2068音频功放</text>
<text class="l" x="641" y="645">双TF卡自弹式卡座</text>
<text class="l" x="892" y="645">TF卡状态指示灯</text>
<text class="l" x="1106" y="645">FS-1540扬声器</text>
</svg>
</body>
</html>
